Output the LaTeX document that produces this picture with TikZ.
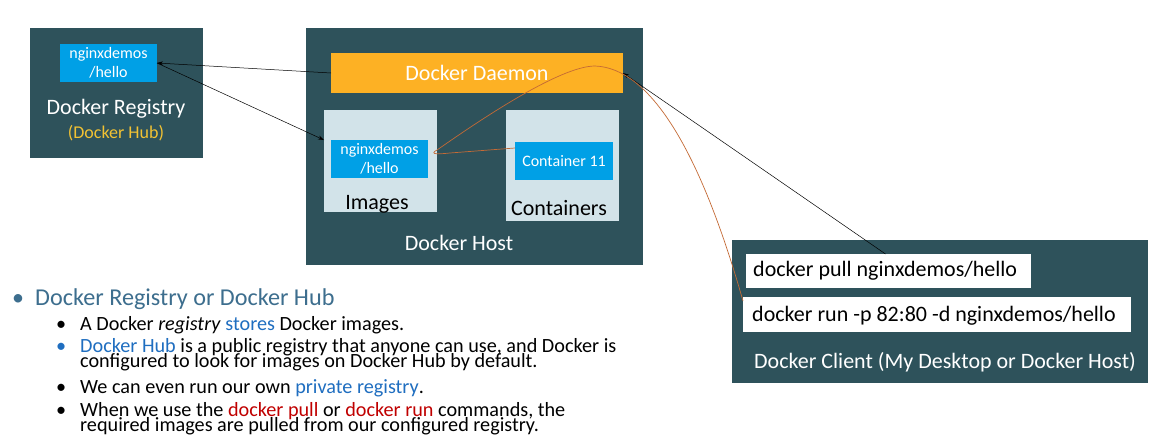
\documentclass[tikz,border=0pt]{standalone}
\usepackage{fontspec}
\setmainfont{Carlito}
\usetikzlibrary{arrows.meta}
\definecolor{dteal}{HTML}{2E525B}
\definecolor{dblue}{HTML}{00A0E6}
\definecolor{dorange}{HTML}{FDB124}
\definecolor{dlight}{HTML}{D2E3E9}
\definecolor{dgold}{HTML}{F2C233}
\definecolor{dhead}{HTML}{3D6E8E}
\definecolor{dtblue}{HTML}{1F6EC0}
\definecolor{dred}{HTML}{C00000}
\definecolor{dcurve}{HTML}{C46A35}
\newcommand{\fs}[1]{\fontsize{#1}{#1}\selectfont}
\begin{document}
\begin{tikzpicture}[x=1pt,y=-1pt,
  rect/.style={draw=none, inner sep=0pt, outer sep=0pt, anchor=north west},
  lbl/.style={inner sep=0pt, text=white},
  blu/.style={rect, fill=dblue, text=white, align=center, font=\fontsize{16}{19}\selectfont},
  cmdtext/.style={inner sep=0pt, anchor=west, text=black, font=\fs{22}},
  tip/.style={-{Stealth[length=6pt,width=4pt]}},
  bl/.style={inner sep=0pt, anchor=base west, font=\fs{20.2}},
]
\useasboundingbox[fill=white] (0,0) rectangle (1161,439);
% Registry
\node[rect, fill=dteal, minimum width=173pt, minimum height=130pt] (reg) at (30,28) {};
\node[blu, minimum width=97pt, minimum height=38pt] (rimg) at (60,44) {nginxdemos\\/hello};
\node[lbl, font=\fs{22}] (regt) at (116,109) {Docker Registry};
\node[lbl, text=dgold, font=\fs{18}] (hubt) at (116,133) {(Docker Hub)};
% Host
\node[rect, fill=dteal, minimum width=337pt, minimum height=237pt] (host) at (306,28) {};
\node[rect, fill=dorange, minimum width=292pt, minimum height=40pt, text=white, font=\fs{22}] (daemon) at (331,53) {Docker Daemon};
\node[rect, fill=dlight, minimum width=113pt, minimum height=102pt] (imgbox) at (324,110) {};
\node[blu, minimum width=97pt, minimum height=38pt] (img) at (331,140) {nginxdemos\\/hello};
\node[lbl, text=black, font=\fs{22}] (imgt) at (377,204) {Images};
\node[rect, fill=dlight, minimum width=113pt, minimum height=111pt] (cbox) at (506,110) {};
\node[blu, minimum width=98pt, minimum height=38pt] (cont) at (515,142) {Container 11};
\node[lbl, text=black, font=\fs{22}] (ct) at (559,208) {Containers};
\node[lbl, font=\fs{22}] (hostt) at (459,243) {Docker Host};
% Client
\node[rect, fill=dteal, minimum width=416pt, minimum height=143pt] (client) at (732,240) {};
\node[rect, fill=white, minimum width=285pt, minimum height=34pt] (pull) at (746,254) {};
\node[cmdtext] (pullt) at ([xshift=7pt]pull.west) {docker pull nginxdemos/hello};
\node[rect, fill=white, minimum width=388pt, minimum height=35pt] (run) at (743,297) {};
\node[cmdtext] (runt) at ([xshift=9pt,yshift=-1pt]run.west) {docker run -p 82:80 -d nginxdemos/hello};
\node[lbl, font=\fs{22}] (clientt) at (945,362) {Docker Client (My Desktop or Docker Host)};
% connectors
\draw[tip, black, line width=0.5pt] (daemon.west) -- (rimg.east);
\draw[tip, black, line width=0.5pt] (rimg.east) -- ([yshift=21pt]imgbox.west);
\draw[tip, black, line width=0.5pt] ([xshift=-3pt]pull.north) -- (daemon.east);
\draw[dcurve, line width=0.7pt] ([yshift=-4pt]run.north west) .. controls (700,150) and (650,68) .. (595,66)
  .. controls (560,66) and (480,120) .. ([yshift=11pt]imgbox.east)
  .. controls (428,155) and (440,154) .. (450,153) -- ([yshift=13pt]cont.west);
% bullets
\node[bl, text=dhead, font=\fs{24}] (b0) at (12,305) {•};
\node[bl, text=dhead, font=\fs{24.2}] (t0) at (35,305) {Docker Registry or Docker Hub};
\node[bl] (b1) at (56,330) {•};
\node[bl] (t1) at (80,330) {A Docker \textit{registry} \textcolor{dtblue}{stores} Docker images.};
\node[bl, text=dtblue] (b2) at (56,352) {•};
\node[bl] (t2) at (80,352) {\textcolor{dtblue}{Docker Hub} is a public registry that anyone can use, and Docker is};
\node[bl] (t3) at (80,367) {configured to look for images on Docker Hub by default.};
\node[bl] (b4) at (56,393) {•};
\node[bl] (t4) at (80,393) {We can even run our own \textcolor{dtblue}{private registry}.};
\node[bl] (b5) at (56,416) {•};
\node[bl] (t5) at (80,416) {When we use the \textcolor{dred}{docker pull} or \textcolor{dred}{docker run} commands, the};
\node[bl] (t6) at (80,431) {required images are pulled from our configured registry.};
\end{tikzpicture}
\end{document}
